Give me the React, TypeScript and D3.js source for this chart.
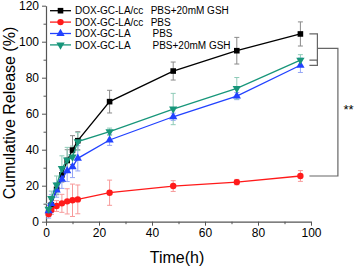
import React, { useEffect, useRef } from 'react';
import * as d3 from 'd3';

const times = [1, 2, 4, 6, 8, 10, 12, 24, 48, 72, 96];

const ccGsh = [5, 9.3, 18, 26, 34, 39.8, 45, 66.7, 83.7, 95, 104.3];
const ccGshErr = [2, 3, 3, 4, 6, 8, 5, 6.3, 5, 7.4, 6.7];

const ccPbs = [4.3, 6.5, 8.7, 10.2, 11.3, 11.9, 12.4, 16.1, 19.8, 22, 25.4];
const ccPbsErr = [1.5, 2.5, 3, 5, 7, 9, 8, 7, 3, 1.5, 3];

const laPbs = [6, 10, 17.6, 23.5, 28.3, 30.5, 35.2, 45.4, 58.3, 69.8, 86.9];
const laPbsErr = [4, 5, 4, 5, 6, 6, 7, 3, 2, 2, 4];

const laGsh = [7, 13, 20.4, 29.6, 34.3, 36, 44.5, 50, 62.6, 74.1, 89.8];
const laGshErr = [3, 4, 5, 7, 7, 6, 5, 2, 8.7, 6, 3];

const seriesNames = ['DOX-GC-LA/cc', 'DOX-GC-LA/cc', 'DOX-GC-LA', 'DOX-GC-LA'];
const seriesMedia = ['PBS+20mM GSH', 'PBS', 'PBS', 'PBS+20mM GSH'];

const xTicks = [0, 20, 40, 60, 80, 100];
const yTicks = [0, 20, 40, 60, 80, 100, 120];

const W = 354;
const H = 267;

export default function App() {
  const svgRef = useRef<SVGSVGElement>(null);

  useEffect(() => {
    if (!svgRef.current) return;
    const svg = d3.select(svgRef.current);
    svg.selectAll('*').remove();

    const x = d3.scaleLinear().domain([0, 100]).range([46, 311]);
    const y = d3.scaleLinear().domain([0, 120]).range([221.7, 5.7]);

    const series = [
      { vals: ccGsh, err: ccGshErr, color: '#000000', errColor: '#8a8a8a', marker: 'square' },
      { vals: ccPbs, err: ccPbsErr, color: '#ff1a1a', errColor: '#f79a9a', marker: 'circle' },
      { vals: laPbs, err: laPbsErr, color: '#2242ff', errColor: '#95a6f5', marker: 'up' },
      { vals: laGsh, err: laGshErr, color: '#17967a', errColor: '#8fcbb8', marker: 'down' },
    ];

    const font = 'Arial, "Liberation Sans", Helvetica, sans-serif';

    // Axes
    const xAxis = svg.append('g').attr('transform', `translate(0,${y(0)})`);
    xAxis.call(d3.axisBottom(x).tickValues(xTicks).tickSize(4).tickSizeOuter(0).tickPadding(3));
    xAxis.selectAll('text').attr('font-size', '12px').attr('font-family', font).attr('fill', '#000');
    xAxis.select('.domain').attr('stroke', '#555').attr('stroke-width', 1.2);
    xAxis.selectAll('.tick line').attr('stroke', '#555');
    svg.append('g')
      .attr('transform', `translate(0,${y(0)})`)
      .call(d3.axisBottom(x).tickValues([10, 30, 50, 70, 90]).tickSize(2.5).tickFormat(() => ''))
      .call(g => g.select('.domain').remove())
      .selectAll('line').attr('stroke', '#555');

    const yAxis = svg.append('g').attr('transform', `translate(${x(0)},0)`);
    yAxis.call(d3.axisLeft(y).tickValues(yTicks).tickSize(4).tickSizeOuter(0).tickPadding(3));
    yAxis.selectAll('text').attr('font-size', '12px').attr('font-family', font).attr('fill', '#000');
    yAxis.select('.domain').attr('stroke', '#555').attr('stroke-width', 1.2);
    yAxis.selectAll('.tick line').attr('stroke', '#555');
    svg.append('g')
      .attr('transform', `translate(${x(0)},0)`)
      .call(d3.axisLeft(y).tickValues([10, 30, 50, 70, 90, 110]).tickSize(2.5).tickFormat(() => ''))
      .call(g => g.select('.domain').remove())
      .selectAll('line').attr('stroke', '#555');

    svg.append('text')
      .attr('x', 177)
      .attr('y', 263)
      .attr('text-anchor', 'middle')
      .attr('font-size', '16px')
      .attr('font-family', font)
      .text('Time(h)');

    svg.append('text')
      .attr('transform', `translate(15,113) rotate(-90)`)
      .attr('text-anchor', 'middle')
      .attr('font-size', '16px')
      .attr('font-family', font)
      .text('Cumulative Release (%)');

    // Error bars
    series.forEach(s => {
      const g = svg.append('g');
      times.forEach((t, i) => {
        const cx = x(t);
        const y1 = y(s.vals[i] + s.err[i]);
        const y2 = y(s.vals[i] - s.err[i]);
        g.append('line').attr('x1', cx).attr('x2', cx).attr('y1', y1).attr('y2', y2)
          .attr('stroke', s.errColor).attr('stroke-width', 1);
        [y1, y2].forEach(yy => {
          g.append('line').attr('x1', cx - 2.5).attr('x2', cx + 2.5).attr('y1', yy).attr('y2', yy)
            .attr('stroke', s.errColor).attr('stroke-width', 1);
        });
      });
    });

    const line = d3.line<number>().x((_, i) => x(times[i])).y(v => y(v));

    const drawMarker = (g: any, kind: string, cx: number, cy: number, color: string) => {
      if (kind === 'square') {
        g.append('rect').attr('x', cx - 2.8).attr('y', cy - 2.8).attr('width', 5.6).attr('height', 5.6).attr('fill', color);
      } else if (kind === 'circle') {
        g.append('circle').attr('cx', cx).attr('cy', cy).attr('r', 3.2).attr('fill', color);
      } else {
        const sym = d3.symbol().type(d3.symbolTriangle).size(30)();
        g.append('path').attr('d', sym as string)
          .attr('transform', `translate(${cx},${cy})${kind === 'down' ? ' rotate(180)' : ''}`)
          .attr('fill', color);
      }
    };

    series.forEach(s => {
      svg.append('path').datum(s.vals).attr('d', line).attr('fill', 'none')
        .attr('stroke', s.color).attr('stroke-width', 1.3);
      const g = svg.append('g');
      times.forEach((t, i) => drawMarker(g, s.marker, x(t), y(s.vals[i]), s.color));
    });

    // Legend
    const leg = svg.append('g');
    series.forEach((s, i) => {
      const ly = 10.7 + i * 11.4;
      leg.append('line').attr('x1', 50).attr('x2', 71).attr('y1', ly).attr('y2', ly)
        .attr('stroke', s.color).attr('stroke-width', 1.3);
      drawMarker(leg, s.marker, 60.5, ly, s.color);
      leg.append('text').attr('x', 75).attr('y', ly + 3.6)
        .attr('font-size', '10px').attr('font-family', font).text(seriesNames[i]);
      leg.append('text').attr('x', i < 2 ? 150.7 : 152.5).attr('y', ly + 3.6)
        .attr('font-size', '10px').attr('font-family', font).text(seriesMedia[i]);
    });

    // Significance brackets
    const last = times.length - 1;
    const xb1 = x(96) + 9;
    const xb2 = xb1 + 8;
    const xb3 = xb2 + 20.5;
    const yBlack = y(ccGsh[last]);
    const yGreen = y(laGsh[last]);
    const yBlue = y(laPbs[last]);
    const yRed = y(ccPbs[last]);
    const yTop = (yBlack + (yGreen + yBlue) / 2) / 2;
    const br = svg.append('g').attr('fill', 'none').attr('stroke', '#666').attr('stroke-width', 1.2);
    br.append('path').attr('d', `M${xb1},${yGreen}H${xb2}V${yBlue}H${xb1}`);
    br.append('path').attr('d', `M${xb1},${yBlack}H${xb2}V${(yGreen + yBlue) / 2}`);
    br.append('path').attr('d', `M${xb2},${yTop}H${xb3}V${yRed}H${xb1}`);
    svg.append('text')
      .attr('x', xb3 + 5.5)
      .attr('y', (yTop + yRed) / 2 + 1.5)
      .attr('font-size', '13px')
      .attr('font-family', font)
      .text('**');
  }, []);

  return (
    <div style={{ position: 'absolute', left: 0, top: 0, width: W, height: H, background: '#fff' }}>
      <svg ref={svgRef} width={W} height={H} style={{ display: 'block' }} />
    </div>
  );
}
